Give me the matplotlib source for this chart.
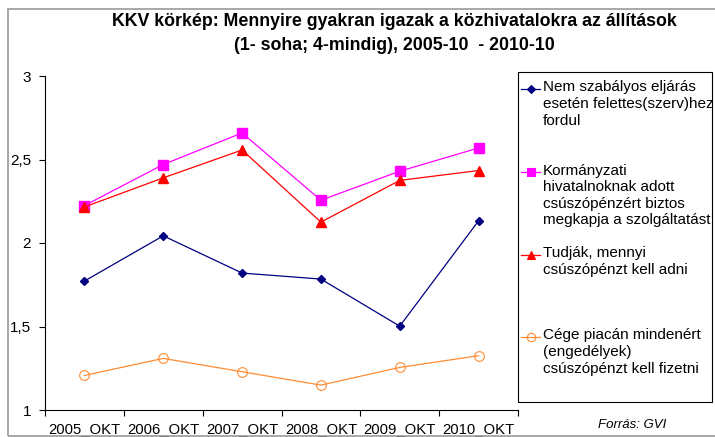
import matplotlib
matplotlib.use("Agg")
import matplotlib.pyplot as plt
from matplotlib.lines import Line2D
from matplotlib.patches import Rectangle
import numpy as np

plt.rcParams['font.family'] = ['Liberation Sans', 'DejaVu Sans']

categories = ["2005_OKT", "2006_OKT", "2007_OKT", "2008_OKT", "2009_OKT", "2010_OKT"]
s_nem = [1.772, 2.043, 1.820, 1.784, 1.502, 2.133]
s_korm = [2.224, 2.470, 2.659, 2.256, 2.430, 2.569]
s_tudjak = [2.216, 2.390, 2.557, 2.125, 2.375, 2.434]
s_cege = [1.207, 1.309, 1.229, 1.149, 1.255, 1.325]

labels = [
    "Nem szabályos eljárás\nesetén felettes(szerv)hez\nfordul",
    "Kormányzati\nhivatalnoknak adott\ncsúszópénzért biztos\nmegkapja a szolgáltatást",
    "Tudják, mennyi\ncsúszópénzt kell adni",
    "Cége piacán mindenért\n(engedélyek)\ncsúszópénzt kell fizetni",
]
yticks = [1, 1.5, 2, 2.5, 3]
ytick_labels = ["1", "1,5", "2", "2,5", "3"]

W, H = 715, 437
fig = plt.figure(figsize=(W / 100, H / 100), dpi=100)

def fx(px):
    return px / W

def fy(py):
    return 1 - py / H

# outer frame
fig.add_artist(Rectangle((fx(8), fy(436)), fx(720) - fx(8), fy(9) - fy(436),
                         transform=fig.transFigure, fill=False,
                         edgecolor="#999999", linewidth=1.2))

ax = fig.add_axes([fx(45), fy(410), fx(518) - fx(45), fy(76) - fy(410)])
x = np.arange(len(categories))

ax.plot(x, s_nem, color="#000080", marker="D", markersize=4.5, linewidth=0.9)
ax.plot(x, s_korm, color="#FF00FF", marker="s", markersize=7, linewidth=0.9)
ax.plot(x, s_tudjak, color="#FF0000", marker="^", markersize=7, linewidth=0.9)
ax.plot(x, s_cege, color="#FF8C33", marker="o", markersize=7, linewidth=0.9,
        markerfacecolor="none", markeredgewidth=0.8)

ax.set_xlim(-0.5, len(categories) - 0.5)
ax.set_ylim(1, 3)
ax.set_yticks(yticks)
ax.set_yticklabels(ytick_labels, fontsize=11)
ax.set_xticks(np.arange(len(categories) + 1) - 0.5)
ax.set_xticklabels([])
ax.set_xticks(x, minor=True)
ax.set_xticklabels(categories, minor=True, fontsize=10.7)
ax.tick_params(axis="x", which="minor", length=0, pad=9)
ax.tick_params(axis="x", which="major", length=4, direction="out", width=0.8)
ax.tick_params(axis="y", length=4, direction="out", width=0.8, pad=6)
ax.spines["top"].set_visible(False)
ax.spines["right"].set_visible(False)

fig.text(fx(394), fy(22), "KKV körkép: Mennyire gyakran igazak a közhivatalokra az állítások",
         ha="center", va="center", fontsize=12.8, fontweight="bold")
fig.text(fx(394), fy(46), "(1- soha; 4-mindig), 2005-10  - 2010-10",
         ha="center", va="center", fontsize=12.8, fontweight="bold")

# legend box
fig.add_artist(Rectangle((fx(518), fy(402)), fx(712) - fx(518), fy(72) - fy(402),
                         transform=fig.transFigure, fill=False,
                         edgecolor="#000000", linewidth=0.8))

styles = [
    dict(color="#000080", marker="D", markersize=4, markerfacecolor="#000080"),
    dict(color="#FF00FF", marker="s", markersize=6, markerfacecolor="#FF00FF"),
    dict(color="#FF0000", marker="^", markersize=6, markerfacecolor="#FF0000"),
    dict(color="#FF8C33", marker="o", markersize=6, markerfacecolor="none"),
]
entry_y = [89, 172, 255, 337]
for lab, st, ey in zip(labels, styles, entry_y):
    fig.add_artist(Line2D([fx(521), fx(540)], [fy(ey), fy(ey)], transform=fig.transFigure,
                          color=st["color"], linewidth=0.9))
    fig.add_artist(Line2D([fx(530.5)], [fy(ey)], transform=fig.transFigure,
                          color=st["color"], marker=st["marker"], markersize=st["markersize"],
                          markerfacecolor=st["markerfacecolor"], markeredgewidth=0.8,
                          linestyle="none"))
    fig.text(fx(543), fy(ey - 8.5), lab, ha="left", va="top", fontsize=11,
             linespacing=1.23)

fig.text(fx(632), fy(425), "Forrás: GVI", ha="center", va="center",
         fontsize=9.5, style="italic")

fig.savefig("out.png", dpi=100)
